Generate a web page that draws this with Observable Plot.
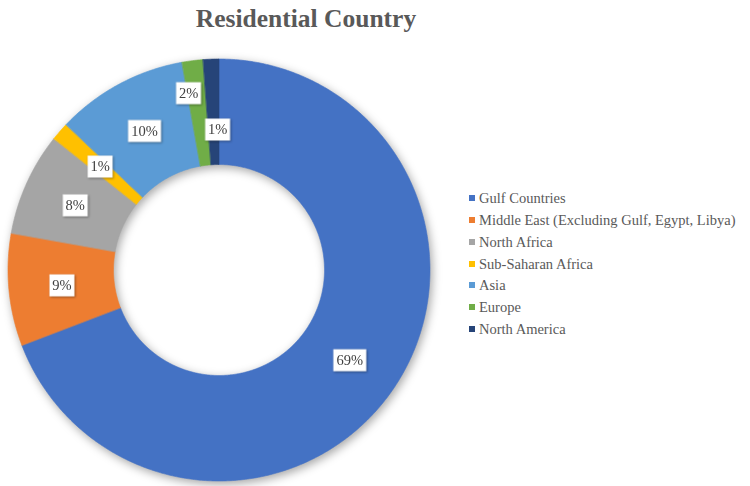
<!DOCTYPE html>
<html><head><meta charset="utf-8">
<script src="https://cdn.jsdelivr.net/npm/d3@7"></script>
<script src="https://cdn.jsdelivr.net/npm/@observablehq/plot@0.6"></script>
<style>
body{margin:0;background:#fff;}
#wrap{position:relative;width:750px;height:486px;overflow:hidden;font-family:"Liberation Serif","Times New Roman",serif;}
#title{position:absolute;left:0;top:4px;width:612px;text-align:center;font-weight:bold;font-size:25.5px;line-height:30px;color:#595959;}
#chart{position:absolute;left:0;top:40px;}
#chart svg, #chart text{font-family:"Liberation Serif","Times New Roman",serif !important;}
#legend{position:absolute;left:469px;top:0;}
.row{position:absolute;left:0;height:20px;line-height:20px;white-space:nowrap;font-size:14.5px;color:#595959;}
.sw{position:absolute;left:0;top:7px;width:6px;height:6px;}
.lt{position:absolute;left:10px;top:0;}
g[aria-label="area"]{filter:drop-shadow(2px 3px 5px rgba(0,0,0,0.35));}
g[aria-label="dot"]{filter:drop-shadow(1.5px 1.5px 1px rgba(0,0,0,0.35));}
</style>
</head><body>
<div id="wrap">
  <div id="title">Residential Country</div>
  <div id="chart"></div>
  <div id="legend"></div>
</div>
<script>
const categories = ["Gulf Countries","Middle East (Excluding Gulf, Egypt, Libya)","North Africa","Sub-Saharan Africa","Asia","Europe","North America"];
const shares = [69.2, 8.6, 7.9, 1.4, 10.1, 1.6, 1.2];
const colors = ["#4472C4","#ED7D31","#A5A5A5","#FFC000","#5B9BD5","#70AD47","#264478"];

const R0 = 0.5, R1 = 1;
const total = d3.sum(shares);
let acc = 0;
const slices = categories.map((name, i) => {
  const a0 = acc / total * 2 * Math.PI; acc += shares[i];
  const a1 = acc / total * 2 * Math.PI;
  return {name, value: shares[i], a0, a1, mid: (a0 + a1) / 2};
});
const pts = [];
for (const s of slices) {
  const n = Math.max(2, Math.ceil((s.a1 - s.a0) / (Math.PI / 360)));
  for (let k = 0; k <= n; k++) {
    const a = s.a0 + (s.a1 - s.a0) * k / n;
    pts.push({name: s.name, x1: R0 * Math.sin(a), y1: R0 * Math.cos(a), x2: R1 * Math.sin(a), y2: R1 * Math.cos(a)});
  }
}
const labelAdjust = {"Europe": {r: 0.853, da: -2.7}, "North America": {r: 0.668, da: 1.4}};
const labels = slices.map(s => {
  const adj = labelAdjust[s.name] || {r: 0.75, da: 0};
  const a = s.mid + adj.da * Math.PI / 180;
  const text = Math.round(s.value) + "%";
  return {name: s.name, text, x: adj.r * Math.sin(a), y: adj.r * Math.cos(a)};
});
const boxSymbol = w => ({draw(ctx) { ctx.rect(-w / 2, -11, w, 22); }});

const chart = Plot.plot({
  width: 750, height: 446, margin: 0,
  style: {background: "transparent"},
  x: {domain: [-1, 1], range: [8, 430], axis: null},
  y: {domain: [-1, 1], range: [441, 19], axis: null},
  color: {domain: categories, range: colors},
  marks: [
    Plot.area(pts, {x1: "x1", y1: "y1", x2: "x2", y2: "y2", z: "name", fill: "name", stroke: "name", strokeWidth: 0.6}),
    Plot.dot(labels.filter(d => d.text.length === 2), {x: "x", y: "y", symbol: boxSymbol(25), fill: "white", stroke: "none", r: 5}),
    Plot.dot(labels.filter(d => d.text.length === 3), {x: "x", y: "y", symbol: boxSymbol(33), fill: "white", stroke: "none", r: 5}),
    Plot.text(labels, {x: "x", y: "y", text: "text", fontSize: 14.5, fill: "#404040"})
  ]
});
document.getElementById("chart").appendChild(chart);

const rowCenters = [198.3, 220, 241.8, 263.5, 285.2, 307, 328.7];
const legend = document.getElementById("legend");
categories.forEach((c, i) => {
  const row = document.createElement("div");
  row.className = "row";
  row.style.top = (rowCenters[i] - 10) + "px";
  row.innerHTML = `<span class="sw" style="background:${colors[i]}"></span><span class="lt"></span>`;
  row.querySelector(".lt").textContent = c;
  legend.appendChild(row);
});
</script>
</body></html>
